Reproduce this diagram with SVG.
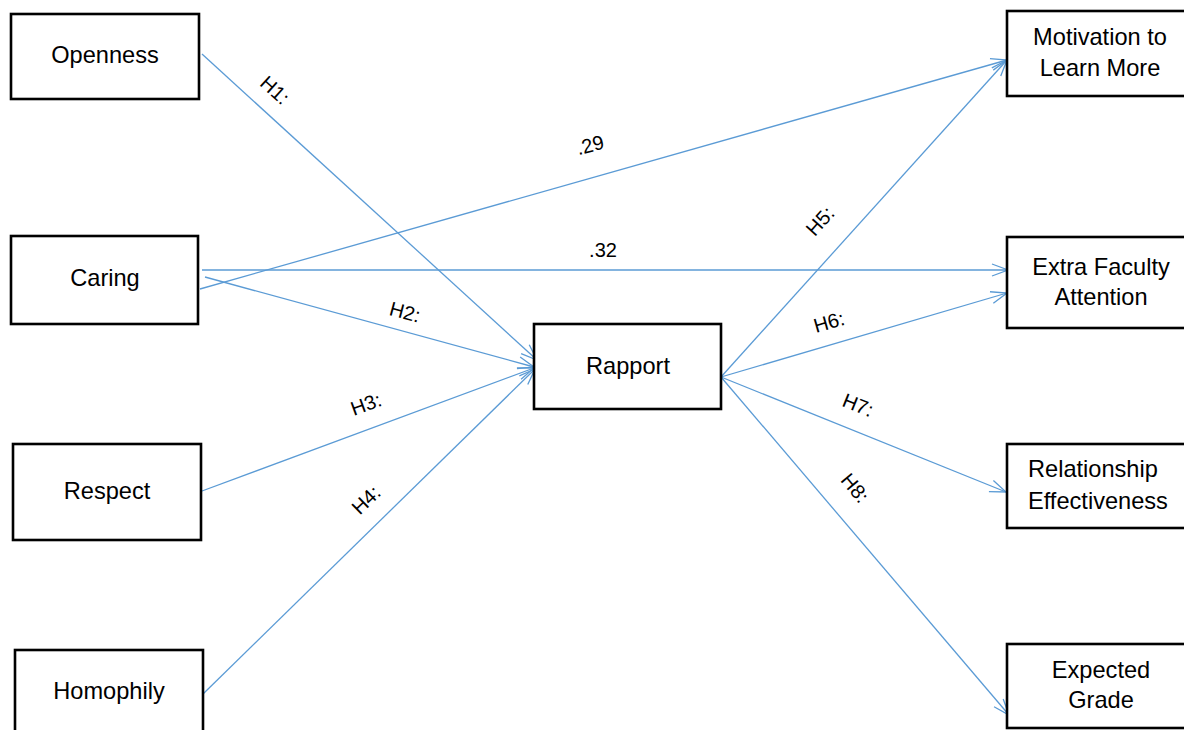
<svg xmlns="http://www.w3.org/2000/svg" width="1184" height="730" viewBox="0 0 1184 730">
<style>
.box{fill:#fff;stroke:#000;stroke-width:2.6}
.t{font-family:"Liberation Sans",Arial,sans-serif;font-size:23.6px;fill:#000;text-anchor:middle}
.tl{font-family:"Liberation Sans",Arial,sans-serif;font-size:23.6px;fill:#000}
.lbl{font-family:"Liberation Sans",Arial,sans-serif;font-size:20px;fill:#000;text-anchor:middle;dominant-baseline:central}
.c{stroke:#5B9BD5;stroke-width:1.3;fill:none;marker-end:url(#ah)}
</style>
<defs>
<marker id="ah" markerUnits="userSpaceOnUse" viewBox="-1 -8 19 16" refX="16" refY="0" markerWidth="19" markerHeight="16" orient="auto" overflow="visible">
<path d="M0,-6 L16,0 L0,6" fill="none" stroke="#5B9BD5" stroke-width="1.3"/>
</marker>
</defs>
<rect width="1184" height="730" fill="#fff"/>
<g id="connectors">
<line class="c" x1="202" y1="54" x2="537" y2="360"/>
<line class="c" x1="200" y1="289" x2="1007" y2="60"/>
<line class="c" x1="202" y1="270" x2="1008" y2="270"/>
<line class="c" x1="205" y1="277" x2="534" y2="367"/>
<line class="c" x1="202" y1="491" x2="534" y2="368"/>
<line class="c" x1="203" y1="694" x2="535" y2="369"/>
<line class="c" x1="721" y1="377" x2="1007" y2="60"/>
<line class="c" x1="721" y1="377" x2="1007" y2="293"/>
<line class="c" x1="721" y1="377" x2="1006" y2="492"/>
<line class="c" x1="721" y1="377" x2="1009" y2="715"/>
<text class="lbl" transform="translate(275,90) rotate(42)">H1:</text>
<text class="lbl" transform="translate(590,145) rotate(-15)">.29</text>
<text class="lbl" transform="translate(603,250)">.32</text>
<text class="lbl" transform="translate(405,312) rotate(15)">H2:</text>
<text class="lbl" transform="translate(366,404) rotate(-20)">H3:</text>
<text class="lbl" transform="translate(366,500) rotate(-44)">H4:</text>
<text class="lbl" transform="translate(820,221) rotate(-48)">H5:</text>
<text class="lbl" transform="translate(829,322) rotate(-16)">H6:</text>
<text class="lbl" transform="translate(858,405) rotate(22)">H7:</text>
<text class="lbl" transform="translate(855,488) rotate(50)">H8:</text>
</g>
<g id="openness"><rect class="box" x="11" y="14" width="188" height="85"/><text class="t" x="105" y="63">Openness</text></g>
<g id="caring"><rect class="box" x="11" y="236" width="187" height="88"/><text class="t" x="105" y="286">Caring</text></g>
<g id="respect"><rect class="box" x="13" y="444" width="188" height="96"/><text class="t" x="107" y="499">Respect</text></g>
<g id="homophily"><rect class="box" x="15" y="650" width="188" height="100"/><text class="t" x="109" y="699">Homophily</text></g>
<g id="rapport"><rect class="box" x="534" y="324" width="187" height="85"/><text class="t" x="628" y="374">Rapport</text></g>
<g id="motivation"><rect class="box" x="1007" y="11" width="190" height="85"/><text class="t" x="1100" y="45">Motivation to</text><text class="t" x="1100" y="76">Learn More</text></g>
<g id="extra"><rect class="box" x="1007" y="237" width="190" height="91"/><text class="t" x="1101" y="275">Extra Faculty</text><text class="t" x="1101" y="305">Attention</text></g>
<g id="relationship"><rect class="box" x="1007" y="444" width="190" height="84"/><text class="tl" x="1028" y="477">Relationship</text><text class="tl" x="1028" y="509">Effectiveness</text></g>
<g id="expected"><rect class="box" x="1007" y="644" width="190" height="84"/><text class="t" x="1101" y="678">Expected</text><text class="t" x="1101" y="708">Grade</text></g>
</svg>
